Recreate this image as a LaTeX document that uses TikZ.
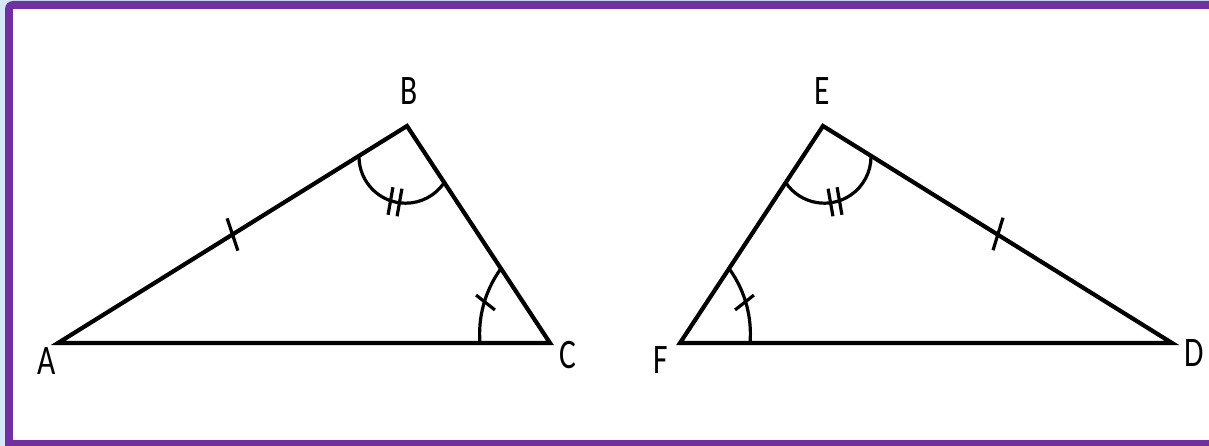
\documentclass[tikz,border=0pt]{standalone}
\usepackage{fontspec}
\setmainfont{Carlito}
\definecolor{wpurple}{RGB}{112,48,160}
\definecolor{lblue}{RGB}{214,232,248}
\begin{document}
\begin{tikzpicture}[x=1pt,y=-1pt,
  side/.style={line width=4.2pt, line join=miter},
  angmark/.style={line width=3.2pt},
  tickmark/.style={line width=3.2pt},
  lab/.style={inner sep=0pt, font=\fontsize{42}{48}\selectfont}]
\useasboundingbox (0,0) rectangle (1209,446);
\clip (0,0) rectangle (1209,446);
% frame
\fill[lblue] (0,0) rectangle (1209,446);
\fill[wpurple] (5,446) -- (5,9) arc[start angle=180, end angle=270, radius=8] -- (1230,1) -- (1230,446) -- cycle;
\fill[white] (13,9) rectangle (1230,440);
% vertices
\coordinate (A) at (58,343);
\coordinate (B) at (407,126);
\coordinate (C) at (550,343);
\coordinate (F) at (680,343);
\coordinate (E) at (823,126);
\coordinate (D) at (1172,343);
% triangles
\draw[side] (A) -- (B) -- (C) -- cycle;
\draw[side] (F) -- (E) -- (D) -- cycle;
% angle arcs
\coordinate (cB) at (405.6,156.6);
\coordinate (cC) at (590.6,334);
\coordinate (cE) at (824.4,156.6);
\coordinate (cF) at (639.4,334);
\draw[angmark] (cB) ++(180:46.6) arc[start angle=180, end angle=34.5, radius=46.6];
\draw[angmark] (cC) ++(215.2:111) arc[start angle=215.2, end angle=175.3, radius=111];
\draw[angmark] (cE) ++(145.5:46.6) arc[start angle=145.5, end angle=0, radius=46.6];
\draw[angmark] (cF) ++(-35.2:111) arc[start angle=-35.2, end angle=4.7, radius=111];
% double ticks
\coordinate (tB1) at (390.5,201);
\coordinate (tB2) at (399.5,202.5);
\coordinate (tE1) at (839.5,201);
\coordinate (tE2) at (830.5,202.5);
\draw[tickmark] (tB1) ++(100:-14) -- ++(100:28);
\draw[tickmark] (tB2) ++(100:-14) -- ++(100:28);
\draw[tickmark] (tE1) ++(80:-14) -- ++(80:28);
\draw[tickmark] (tE2) ++(80:-14) -- ++(80:28);
% single ticks on arcs
\coordinate (tC) at (485.5,302.5);
\coordinate (tF) at (744.5,302.5);
\draw[tickmark] (tC) ++(38.3:-12) -- ++(38.3:24);
\draw[tickmark] (tF) ++(141.7:-12) -- ++(141.7:24);
% side ticks
\coordinate (mAB) at (232.5,234.5);
\coordinate (mED) at (998,234);
\draw[tickmark] (mAB) ++(71.6:-17) -- ++(71.6:34);
\draw[tickmark] (mED) ++(107:-17) -- ++(107:34);
% labels
\node[lab] (lA) at (47,361) {\scalebox{0.75}[1]{A}};
\node[lab] (lB) at (409,91) {\scalebox{0.75}[1]{B}};
\node[lab] (lC) at (568,355) {\scalebox{0.75}[1]{C}};
\node[lab] (lD) at (1194,353) {\scalebox{0.75}[1]{D}};
\node[lab] (lE) at (822,91) {\scalebox{0.75}[1]{E}};
\node[lab] (lF) at (661,360) {\scalebox{0.75}[1]{F}};
\end{tikzpicture}
\end{document}
